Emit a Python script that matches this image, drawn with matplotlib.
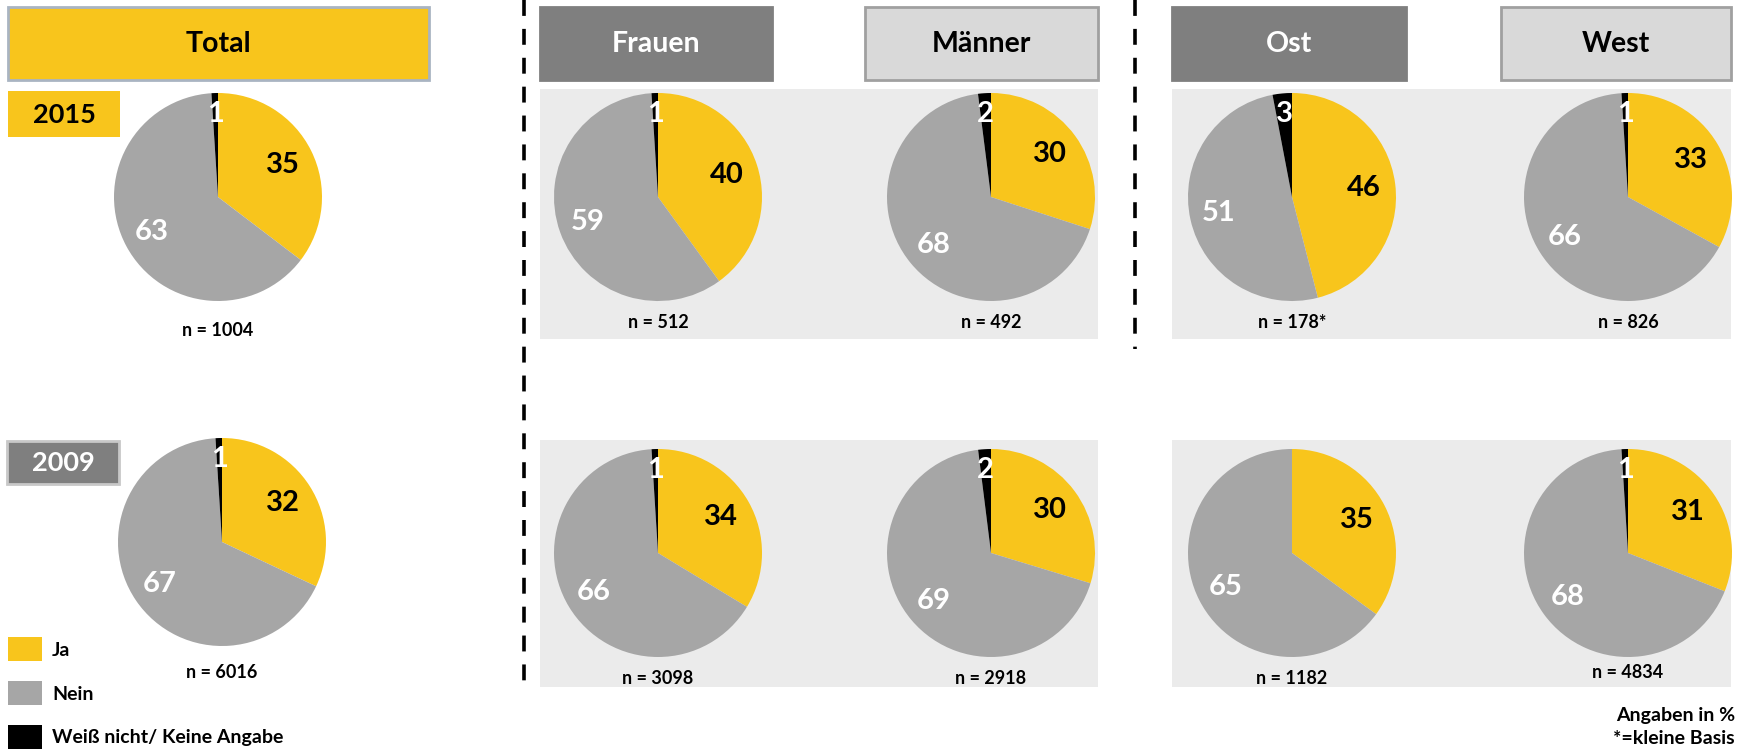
import numpy as np
import matplotlib.pyplot as plt
from matplotlib.patches import Rectangle

plt.rcParams["font.family"] = ["Lato", "DejaVu Sans"]

groups = ["Total", "Frauen", "Männer", "Ost", "West"]
ja_2015 = [35, 40, 30, 46, 33]
nein_2015 = [63, 59, 68, 51, 66]
wn_2015 = [1, 1, 2, 3, 1]
n_2015 = ["1004", "512", "492", "178*", "826"]
ja_2009 = [32, 34, 30, 35, 31]
nein_2009 = [67, 66, 69, 65, 68]
wn_2009 = [1, 1, 2, 0, 1]
n_2009 = ["6016", "3098", "2918", "1182", "4834"]
legend_labels = ["Ja", "Nein", "Weiß nicht/ Keine Angabe"]

YELLOW = "#F8C51C"
GRAY = "#A6A6A6"
BLACK = "#000000"
DARK = "#7F7F7F"
LIGHT = "#D9D9D9"
PANEL = "#EBEBEB"

W, H = 1737, 749
fig = plt.figure(figsize=(W / 100, H / 100), dpi=100)
bg = fig.add_axes([0, 0, 1, 1])
bg.set_xlim(0, W)
bg.set_ylim(H, 0)
bg.axis("off")

# grey panels behind the breakdown pies
for x0, w in [(540, 558), (1172, 559)]:
    bg.add_patch(Rectangle((x0, 89), w, 250, color=PANEL, lw=0))
    bg.add_patch(Rectangle((x0, 440), w, 247, color=PANEL, lw=0))

# header boxes
head_x = [(8, 421), (540, 232), (865, 233), (1172, 234), (1501, 230)]
head_fc = [YELLOW, DARK, LIGHT, DARK, LIGHT]
head_ec = ["#A9B4C2", DARK, "#A0A0A0", DARK, "#A0A0A0"]
head_tc = ["black", "white", "black", "white", "black"]
for (x0, w), fc, ec, tc, g in zip(head_x, head_fc, head_ec, head_tc, groups):
    bg.add_patch(Rectangle((x0, 7), w, 73, fc=fc, ec=ec, lw=2))
    bg.text(x0 + w / 2, 44, g, ha="center", va="center", color=tc,
            fontsize=20.5, fontweight="bold")

# year boxes
bg.add_patch(Rectangle((8, 91), 112, 46, fc=YELLOW, lw=0))
bg.text(64, 115, "2015", ha="center", va="center", fontsize=19.5, fontweight="bold")
bg.add_patch(Rectangle((7, 441), 112, 43, fc=DARK, ec="#C8C8C8", lw=2))
bg.text(63, 463, "2009", ha="center", va="center", color="white",
        fontsize=19.5, fontweight="bold")

# dashed separators
bg.plot([524, 524], [0, 692], color="black", lw=2.6, ls=(0, (4.4, 3.6)))
bg.plot([1135, 1135], [0, 349], color="black", lw=2.6, ls=(0, (4.4, 3.6)))

# legend
for i, (lab, c) in enumerate(zip(legend_labels, [YELLOW, GRAY, BLACK])):
    y0 = 637 + i * 44
    bg.add_patch(Rectangle((8, y0), 34, 24, fc=c, lw=0))
    bg.text(52, y0 + 13, lab, ha="left", va="center", fontsize=14, fontweight="bold")

bg.text(1735, 715, "Angaben in %", ha="right", va="center", fontsize=14, fontweight="bold")
bg.text(1735, 739, "*=kleine Basis", ha="right", va="center", fontsize=14, fontweight="bold")

R = 104
cx = [218, 658, 991, 1292, 1628]
rows = [
    (ja_2015, nein_2015, wn_2015, n_2015, [197] * 5, [133, 126, 126, 126, 126], [0] * 5),
    (ja_2009, nein_2009, wn_2009, n_2009, [542, 553, 553, 553, 553], [130, 126, 126, 126, 120], [4, 0, 0, 0, 0]),
]

for ja, nein, wn, nn, cys, ndy, dx in rows:
    for i in range(5):
        x = cx[i] + dx[i]
        y = cys[i]
        ax = fig.add_axes([(x - R) / W, 1 - (y + R) / H, 2 * R / W, 2 * R / H])
        vals = [ja[i], nein[i], wn[i]]
        wedges, _ = ax.pie(vals, colors=[YELLOW, GRAY, BLACK], startangle=90,
                           counterclock=False, radius=1,
                           wedgeprops=dict(linewidth=0))
        ax.set_xlim(-1, 1)
        ax.set_ylim(-1, 1)
        ax.set_aspect("equal")
        for w, v, col, dist in zip(wedges, vals, ["black", "white", "white"],
                                   [0.7, 0.72, 0.8]):
            if v == 0:
                continue
            ang = np.deg2rad((w.theta1 + w.theta2) / 2)
            ax.text(dist * np.cos(ang), dist * np.sin(ang), str(v),
                    ha="center", va="center", color=col,
                    fontsize=21, fontweight="bold")
        bg.text(x, y + ndy[i], "n = " + nn[i], ha="center", va="center",
                fontsize=13, fontweight="bold")

fig.savefig("out.png", dpi=100)
